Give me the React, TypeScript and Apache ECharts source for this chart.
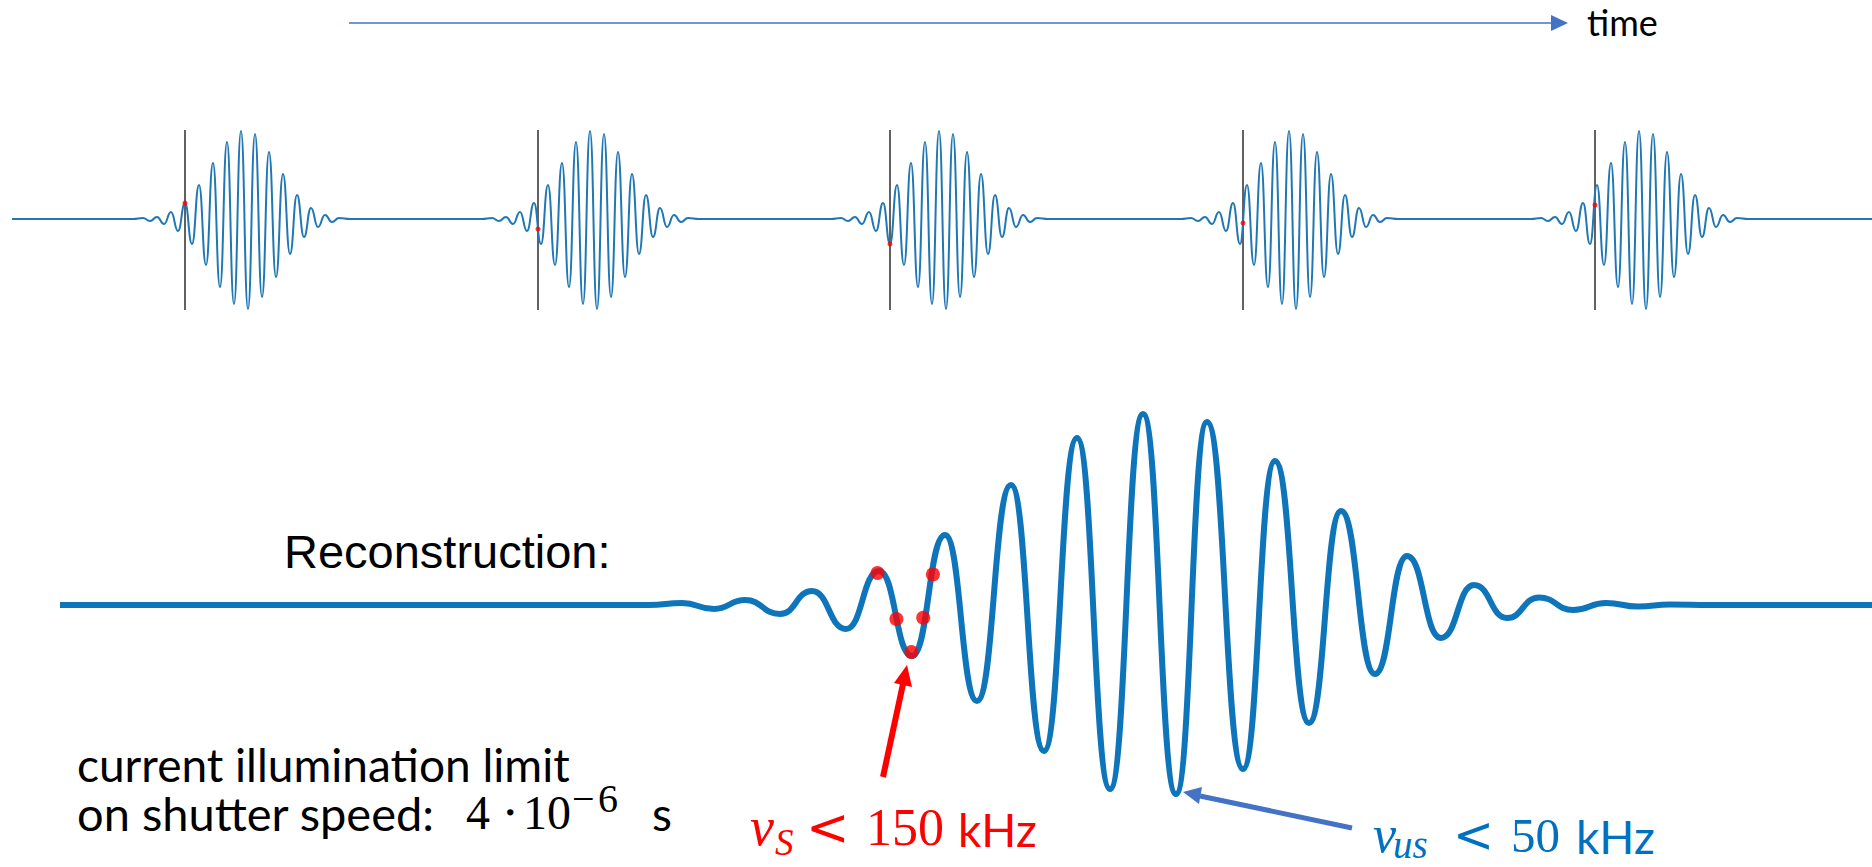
import React, { useEffect, useRef } from "react";
import * as echarts from "echarts";

// ---- top row: one wave packet, extrema relative to its central small peak (time units, amplitude a.u.)
const PACKET_OFFSETS = [-52, -42, -35, -28, -21, -14, -7, 0, 7, 14, 21, 28, 35, 42, 49, 56, 63, 70, 77, 84, 91, 98, 105, 112, 119, 126, 133, 140, 147, 154, 165];
const PACKET_VALUES = [0, 0.01, -0.02, 0.02, -0.05, 0.07, -0.12, 0.16, -0.25, 0.34, -0.46, 0.56, -0.68, 0.77, -0.85, 0.88, -0.9, 0.85, -0.78, 0.67, -0.58, 0.45, -0.35, 0.24, -0.18, 0.11, -0.08, 0.04, -0.03, 0.01, 0];
const PACKET_CENTERS = [185, 534, 883, 1233, 1583];
const TRIGGER_TIMES = [185, 538, 890, 1243, 1595];
const TRIGGER_SAMPLES = [0.16, -0.1, -0.25, -0.04, 0.14];
const TOP_START = 12;
const TOP_END = 1872;
const TRIGGER_LOW = -0.91;
const TRIGGER_HIGH = 0.89;

// ---- reconstruction: extrema of the stretched waveform
const RECON_T = [60, 620, 649, 682, 714, 745, 780, 812, 846, 879, 912, 945, 977, 1011, 1044, 1077, 1110, 1143, 1176, 1207, 1243, 1275, 1309, 1341, 1375, 1407, 1441, 1474, 1507, 1539, 1573, 1606, 1638, 1670, 1710, 1872];
const RECON_V = [0, 0, 0, 0.01, -0.02, 0.025, -0.045, 0.07, -0.12, 0.17, -0.255, 0.35, -0.48, 0.6, -0.73, 0.835, -0.92, 0.955, -0.945, 0.915, -0.82, 0.72, -0.59, 0.47, -0.345, 0.245, -0.165, 0.1, -0.065, 0.038, -0.025, 0.01, -0.008, 0.003, 0, 0];
const SAMPLE_T = [877.5, 896.4, 911.4, 923.2, 932.9];
const SAMPLE_V = [0.16, -0.07, -0.235, -0.064, 0.153];

const CALIBRI = "Lato, 'Open Sans', sans-serif";
const SERIF = "'Liberation Serif', 'DejaVu Serif', serif";
const SANS_SYM = "'DejaVu Sans', sans-serif";

function txt(x: number, baseline: number, text: string, size: number, family: string, fill: string, extra: any = {}) {
  return {
    type: "text",
    x,
    y: baseline - 0.34 * size,
    silent: true,
    style: { text, fontSize: size, lineHeight: Math.round(size * 0.8), fontFamily: family, fill, align: "left", verticalAlign: "middle", ...extra },
  };
}

export default function App() {
  const ref = useRef<HTMLDivElement>(null);
  useEffect(() => {
    document.body.style.margin = "0";
    const chart = echarts.init(ref.current!, null, { renderer: "svg" });

    const topData: any[] = [[TOP_START, 0]];
    PACKET_CENTERS.forEach((c) => {
      PACKET_OFFSETS.forEach((o, i) => topData.push([c + o, PACKET_VALUES[i]]));
    });
    topData.push([TOP_END, 0]);

    const reconData = RECON_T.map((t, i) => [t, RECON_V[i]]);

    const triggerSeries = TRIGGER_TIMES.map((t) => ({
      type: "line",
      xAxisIndex: 0,
      yAxisIndex: 0,
      data: [[t, TRIGGER_HIGH], [t, TRIGGER_LOW]],
      symbol: "none",
      silent: true,
      lineStyle: { color: "#3a3a3a", width: 1.6 },
      z: 1,
    }));

    const option: any = {
      animation: false,
      backgroundColor: "#ffffff",
      grid: [
        { left: 0, top: 119, width: 1872, height: 200 },
        { left: 0, top: 405, width: 1872, height: 400 },
      ],
      xAxis: [
        { type: "value", gridIndex: 0, min: 0, max: 1872, show: false },
        { type: "value", gridIndex: 1, min: 0, max: 1872, show: false },
      ],
      yAxis: [
        { type: "value", gridIndex: 0, min: -1, max: 1, show: false },
        { type: "value", gridIndex: 1, min: -1, max: 1, show: false },
      ],
      series: [
        ...triggerSeries,
        {
          type: "line",
          xAxisIndex: 0,
          yAxisIndex: 0,
          data: topData,
          smooth: 0.5,
          smoothMonotone: "x",
          symbol: "none",
          clip: false,
          lineStyle: { color: "#1f77b4", width: 2 },
          z: 2,
        },
        {
          type: "scatter",
          xAxisIndex: 0,
          yAxisIndex: 0,
          data: TRIGGER_TIMES.map((t, i) => [t, TRIGGER_SAMPLES[i]]),
          symbolSize: 5,
          itemStyle: { color: "#ff0000" },
          z: 3,
        },
        {
          type: "line",
          xAxisIndex: 1,
          yAxisIndex: 1,
          data: reconData,
          smooth: 0.5,
          smoothMonotone: "x",
          symbol: "none",
          clip: false,
          lineStyle: { color: "#0f75bb", width: 6 },
          z: 2,
        },
        {
          type: "scatter",
          xAxisIndex: 1,
          yAxisIndex: 1,
          data: SAMPLE_T.map((t, i) => [t, SAMPLE_V[i]]),
          symbolSize: 14,
          itemStyle: { color: "#ff0000" },
          z: 3,
        },
      ],
      graphic: {
        elements: [
          // time arrow
          { type: "line", silent: true, shape: { x1: 349, y1: 23, x2: 1554, y2: 23 }, style: { stroke: "#4472c4", lineWidth: 1.6 } },
          { type: "polygon", silent: true, shape: { points: [[1551, 15], [1568, 23], [1551, 31]] }, style: { fill: "#4472c4" } },
          txt(1587, 34, "time", 36, CALIBRI, "#000000"),
          // reconstruction label
          txt(284, 567, "Reconstruction:", 47, "'Liberation Sans', Arial, sans-serif", "#000000"),
          // red arrow
          { type: "line", silent: true, shape: { x1: 883, y1: 777, x2: 903, y2: 684 }, style: { stroke: "#ff0000", lineWidth: 6 } },
          { type: "polygon", silent: true, shape: { points: [[907, 665], [912, 687], [894, 683]] }, style: { fill: "#ff0000" } },
          // blue arrow
          { type: "line", silent: true, shape: { x1: 1352, y1: 828, x2: 1200, y2: 796 }, style: { stroke: "#4472c4", lineWidth: 5 } },
          { type: "polygon", silent: true, shape: { points: [[1183, 792], [1202, 787], [1199, 804]] }, style: { fill: "#4472c4" } },
          // bottom-left text
          txt(77, 780, "current illumination limit", 46, CALIBRI, "#000000"),
          txt(77, 829, "on shutter speed:", 47, CALIBRI, "#000000"),
          txt(466, 829, "4", 48, SERIF, "#000000"),
          txt(502, 829, "\u22C5", 48, SERIF, "#000000"),
          txt(523, 829, "10", 48, SERIF, "#000000"),
          txt(572, 812, "\u2212", 40, SERIF, "#000000"),
          txt(598, 812, "6", 40, SERIF, "#000000"),
          txt(652, 829, "s", 46, CALIBRI, "#000000"),
          // red label
          txt(750, 845, "\u03BD", 54, SERIF, "#ff0000", { fontStyle: "italic" }),
          txt(775, 855, "S", 37, SERIF, "#ff0000", { fontStyle: "italic" }),
          txt(806, 845, "<", 52, SANS_SYM, "#ff0000"),
          txt(866, 845, "150", 52, SERIF, "#ff0000"),
          txt(958, 845, "kHz", 46, CALIBRI, "#ff0000"),
          // blue label
          txt(1373, 852, "\u03BD", 52, SERIF, "#0070c0", { fontStyle: "italic" }),
          txt(1393, 858, "us", 39, SERIF, "#0070c0", { fontStyle: "italic", lineHeight: 24 }),
          txt(1453, 852, "<", 49, SANS_SYM, "#0070c0", { lineHeight: 30 }),
          txt(1511, 852, "50", 49, SERIF, "#0070c0", { lineHeight: 34 }),
          txt(1576, 852, "kHz", 46, CALIBRI, "#0070c0", { lineHeight: 34 }),
        ],
      },
    };
    chart.setOption(option);
    return () => chart.dispose();
  }, []);
  return <div ref={ref} style={{ width: 1872, height: 867 }} />;
}
